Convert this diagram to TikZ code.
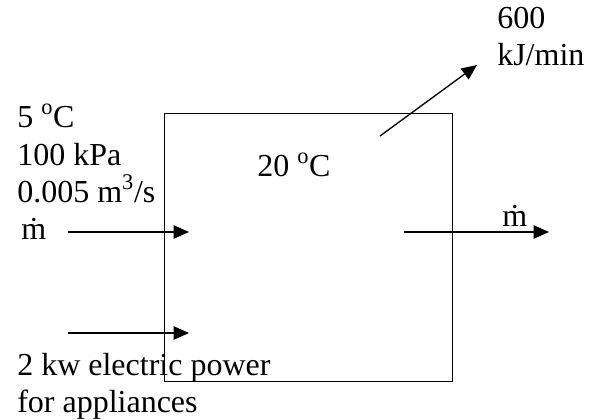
\documentclass[tikz,border=0pt]{standalone}
\usepackage{fontspec}
\setmainfont{Liberation Serif}
\usetikzlibrary{arrows.meta}
\begin{document}
\begin{tikzpicture}[x=0.75pt,y=-0.75pt,
  lbl/.style={anchor=base west, inner sep=0pt, font=\fontsize{24}{28}\selectfont},
  flow/.style={line width=1pt, -{Triangle[length=11.5pt,width=10pt]}},
  cv/.style={draw, line width=1pt, inner sep=0pt, anchor=north west,
             minimum width=216pt, minimum height=201pt}]
\useasboundingbox (0,0) rectangle (600,419);
\node[cv] (box) at (164,113) {};
% left labels
\node[lbl] (t1) at (17,127) {5 \textsuperscript{o}C};
\node[lbl] (t2) at (17,165) {100 kPa};
\node[lbl] (t3) at (17,202) {0.005 m\textsuperscript{3}/s};
\node[lbl] (t4) at (21,239) {\.m};
\node[lbl] (t5) at (17,375) {2 kw electric power};
\node[lbl] (t6) at (17,412) {for appliances};
\node[lbl] (t7) at (257,176) {20 \textsuperscript{o}C};
\node[lbl] (t8) at (502,226) {\.m};
\node[lbl] (t9) at (497,28) {600};
\node[lbl] (t10) at (497,65) {kJ/min};
% arrows
\coordinate (a1s) at (68,232);
\coordinate (a1e) at (189,232);
\coordinate (a2s) at (68,333);
\coordinate (a2e) at (189,333);
\coordinate (a3s) at (404,232);
\coordinate (a3e) at (549,232);
\coordinate (a4s) at (380,136);
\coordinate (a4e) at (477,65);
\draw[flow] (a1s) -- (a1e);
\draw[flow] (a2s) -- (a2e);
\draw[flow] (a3s) -- (a3e);
\draw[flow] (a4s) -- (a4e);
\end{tikzpicture}
\end{document}
